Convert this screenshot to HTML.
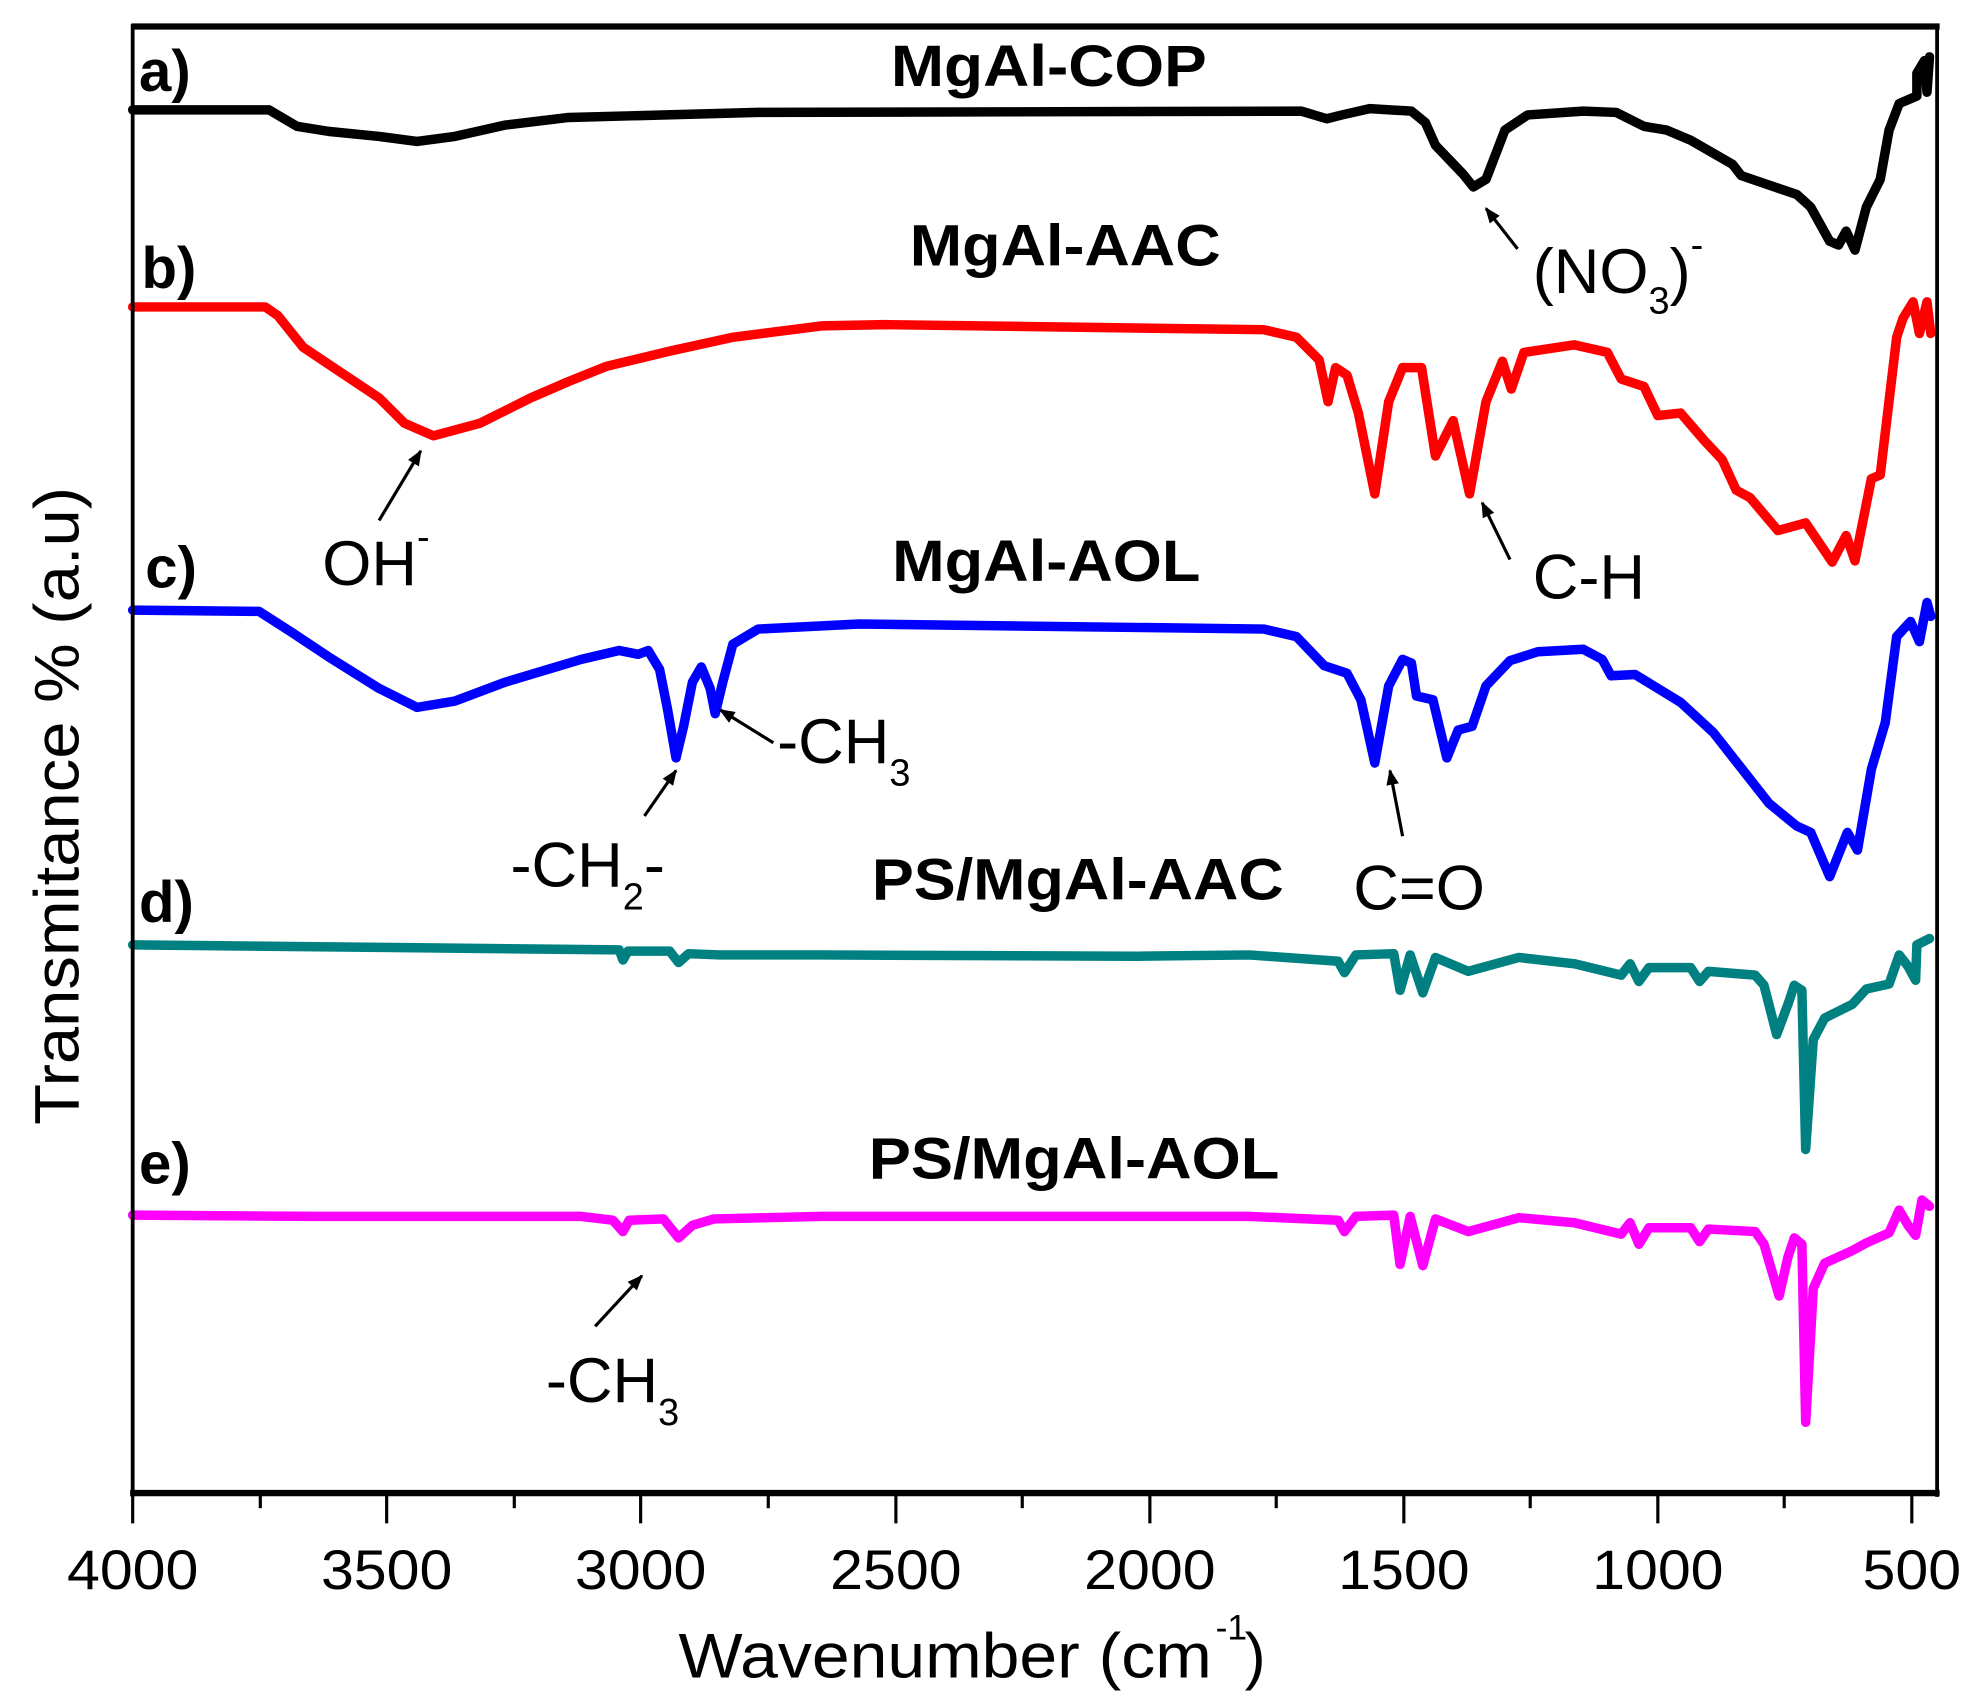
<!DOCTYPE html>
<html><head><meta charset="utf-8"><style>
html,body{margin:0;padding:0;background:#fff;}
svg{display:block;}
text{font-family:"Liberation Sans",Arial,sans-serif;}
.t{font-weight:bold;font-size:46px;}
.a{font-size:50px;}
.tk{font-size:44px;}
</style></head><body>
<svg width="1975" height="1704" viewBox="0 0 1563 1349" preserveAspectRatio="none" xmlns="http://www.w3.org/2000/svg">
<defs><marker id="ar" viewBox="0 0 10 10" refX="9" refY="5" markerWidth="6" markerHeight="5" orient="auto"><path d="M0,1 L10,5 L0,9 z" fill="#000"/></marker></defs>
<g fill="none" stroke-linejoin="round" stroke-linecap="round" stroke-width="7.5">
<polyline stroke="#000" points="105,87 213,87 235,100 260,104 300,108 330,112 360,108 400,99 450,93 600,89 1030,88 1050,94 1062,91 1084,86 1117,88 1128,97 1136,115 1158,138 1166,148 1176,142 1191,103 1209,91 1253,88 1279,89 1301,100 1319,103 1338,111 1371,130 1378,139 1422,154 1433,164 1448,191 1455,194 1461,183 1468,198 1477,164 1488,142 1495,103 1503,82 1517,76 1517,58 1523,48 1525,73 1527,45"/>
<polyline stroke="#f00" points="105,243 210,243 220,250 240,275 270,295 300,315 320,335 343,345 380,335 420,315 450,302 480,290 530,278 580,267 650,258 700,257 1000,261 1026,267 1044,285 1051,318 1057,291 1066,297 1075,327 1088,391 1099,318 1110,291 1125,291 1136,361 1150,333 1163,391 1176,318 1189,286 1196,308 1206,279 1246,273 1272,279 1283,300 1301,306 1312,329 1330,327 1349,349 1363,364 1374,388 1385,394 1407,420 1429,414 1450,445 1461,424 1468,444 1481,379 1488,376 1501,267 1506,252 1514,239 1519,264 1525,239 1528,264"/>
<polyline stroke="#00f" points="105,483 205,484 230,500 260,520 300,545 330,560 360,555 400,540 460,522 490,515 505,518 513,515 522,530 528,560 535,600 541,575 548,540 555,528 562,545 566,565 572,540 580,510 600,498 680,494 1000,498 1026,504 1048,527 1066,533 1077,554 1088,604 1099,543 1110,522 1117,525 1121,551 1134,554 1145,600 1154,578 1165,575 1176,543 1195,523 1217,516 1253,514 1268,522 1275,535 1294,534 1330,556 1356,580 1400,636 1422,654 1433,659 1448,694 1462,659 1470,673 1481,609 1492,572 1501,504 1512,492 1519,508 1525,477 1528,488"/>
<polyline stroke="#008080" points="105,748 300,750 490,752 493,760 497,753 530,753 537,762 545,755 570,756 650,756 900,757 989,756 1059,761 1064,770 1073,756 1103,755 1108,784 1116,756 1126,786 1136,758 1162,769 1202,758 1246,763 1283,772 1290,763 1297,777 1305,766 1338,766 1345,777 1352,769 1389,772 1396,780 1406,819 1415,795 1420,780 1426,784 1429,910 1435,823 1444,806 1466,795 1477,783 1495,779 1503,756 1510,765 1516,776 1517,748 1527,743"/>
<polyline stroke="#f0f" points="105,962 250,963 460,963 485,966 493,975 498,966 525,965 537,980 548,970 565,965 650,963 989,963 1059,966 1064,975 1073,963 1103,962 1108,1001 1116,963 1126,1002 1136,965 1162,975 1202,964 1246,968 1283,977 1290,968 1297,985 1305,972 1338,972 1345,983 1352,973 1389,975 1396,985 1408,1026 1415,995 1420,980 1426,985 1429,1126 1435,1020 1444,1000 1466,990 1477,984 1495,976 1503,958 1510,970 1516,978 1521,950 1527,955"/>
</g>
<g stroke="#000" fill="none">
<line x1="104" y1="21" x2="1535" y2="21" stroke-width="5"/>
<line x1="105" y1="19" x2="105" y2="1185" stroke-width="3"/>
<line x1="1533" y1="19" x2="1533" y2="1185" stroke-width="3"/>
<line x1="103" y1="1182" x2="1535" y2="1182" stroke-width="5"/>
<g stroke-width="2.5">
<line x1="105" y1="1182" x2="105" y2="1206"/><line x1="206" y1="1182" x2="206" y2="1194"/>
<line x1="306" y1="1182" x2="306" y2="1206"/><line x1="407" y1="1182" x2="407" y2="1194"/>
<line x1="507" y1="1182" x2="507" y2="1206"/><line x1="608" y1="1182" x2="608" y2="1194"/>
<line x1="709" y1="1182" x2="709" y2="1206"/><line x1="809" y1="1182" x2="809" y2="1194"/>
<line x1="910" y1="1182" x2="910" y2="1206"/><line x1="1010" y1="1182" x2="1010" y2="1194"/>
<line x1="1111" y1="1182" x2="1111" y2="1206"/><line x1="1211" y1="1182" x2="1211" y2="1194"/>
<line x1="1312" y1="1182" x2="1312" y2="1206"/><line x1="1412" y1="1182" x2="1412" y2="1194"/>
<line x1="1513" y1="1182" x2="1513" y2="1206"/>
</g>
</g>
<g class="tk" text-anchor="middle">
<text x="105" y="1258" textLength="104" lengthAdjust="spacingAndGlyphs">4000</text><text x="306" y="1258" textLength="104" lengthAdjust="spacingAndGlyphs">3500</text>
<text x="507" y="1258" textLength="104" lengthAdjust="spacingAndGlyphs">3000</text><text x="709" y="1258" textLength="104" lengthAdjust="spacingAndGlyphs">2500</text>
<text x="910" y="1258" textLength="104" lengthAdjust="spacingAndGlyphs">2000</text><text x="1111" y="1258" textLength="104" lengthAdjust="spacingAndGlyphs">1500</text>
<text x="1312" y="1258" textLength="104" lengthAdjust="spacingAndGlyphs">1000</text><text x="1513" y="1258" textLength="78" lengthAdjust="spacingAndGlyphs">500</text>
</g>
<text x="537" y="1328" font-size="50" textLength="422" lengthAdjust="spacingAndGlyphs">Wavenumber (cm</text>
<text x="962" y="1298" font-size="28">-1</text>
<text x="985" y="1328" font-size="50">)</text>
<text transform="translate(62,638) rotate(-90)" text-anchor="middle" font-size="50" textLength="505" lengthAdjust="spacingAndGlyphs">Transmitance % (a.u)</text>
<g class="t">
<text x="110" y="72">a)</text><text x="112" y="228">b)</text><text x="115" y="465">c)</text><text x="110" y="730">d)</text><text x="110" y="937">e)</text>
<text x="830" y="68" text-anchor="middle" textLength="250" lengthAdjust="spacingAndGlyphs">MgAl-COP</text>
<text x="843" y="210" text-anchor="middle" textLength="246" lengthAdjust="spacingAndGlyphs">MgAl-AAC</text>
<text x="828" y="460" text-anchor="middle" textLength="244" lengthAdjust="spacingAndGlyphs">MgAl-AOL</text>
<text x="853" y="712" text-anchor="middle" textLength="326" lengthAdjust="spacingAndGlyphs">PS/MgAl-AAC</text>
<text x="850" y="933" text-anchor="middle" textLength="325" lengthAdjust="spacingAndGlyphs">PS/MgAl-AOL</text>
</g>
<g stroke="#000" stroke-width="2.5" marker-end="url(#ar)">
<line x1="1201" y1="197" x2="1176" y2="165"/>
<line x1="300" y1="412" x2="333" y2="357"/>
<line x1="1195" y1="443" x2="1173" y2="398"/>
<line x1="612" y1="588" x2="570" y2="562"/>
<line x1="510" y1="646" x2="535" y2="610"/>
<line x1="1110" y1="662" x2="1100" y2="610"/>
<line x1="471" y1="1050" x2="508" y2="1010"/>
</g>
<g class="a">
<text x="1213" y="232">(NO<tspan font-size="30" dy="16">3</tspan><tspan dy="-16">)</tspan><tspan font-size="30" dy="-28">-</tspan></text>
<text x="255" y="463">OH<tspan font-size="30" dy="-28">-</tspan></text>
<text x="1213" y="474">C-H</text>
<text x="615" y="604">-CH<tspan font-size="30" dy="18">3</tspan></text>
<text x="404" y="702">-CH<tspan font-size="30" dy="18">2</tspan><tspan dy="-18">-</tspan></text>
<text x="1071" y="720">C=O</text>
<text x="432" y="1110">-CH<tspan font-size="30" dy="18">3</tspan></text>
</g>
</svg>
</body></html>
